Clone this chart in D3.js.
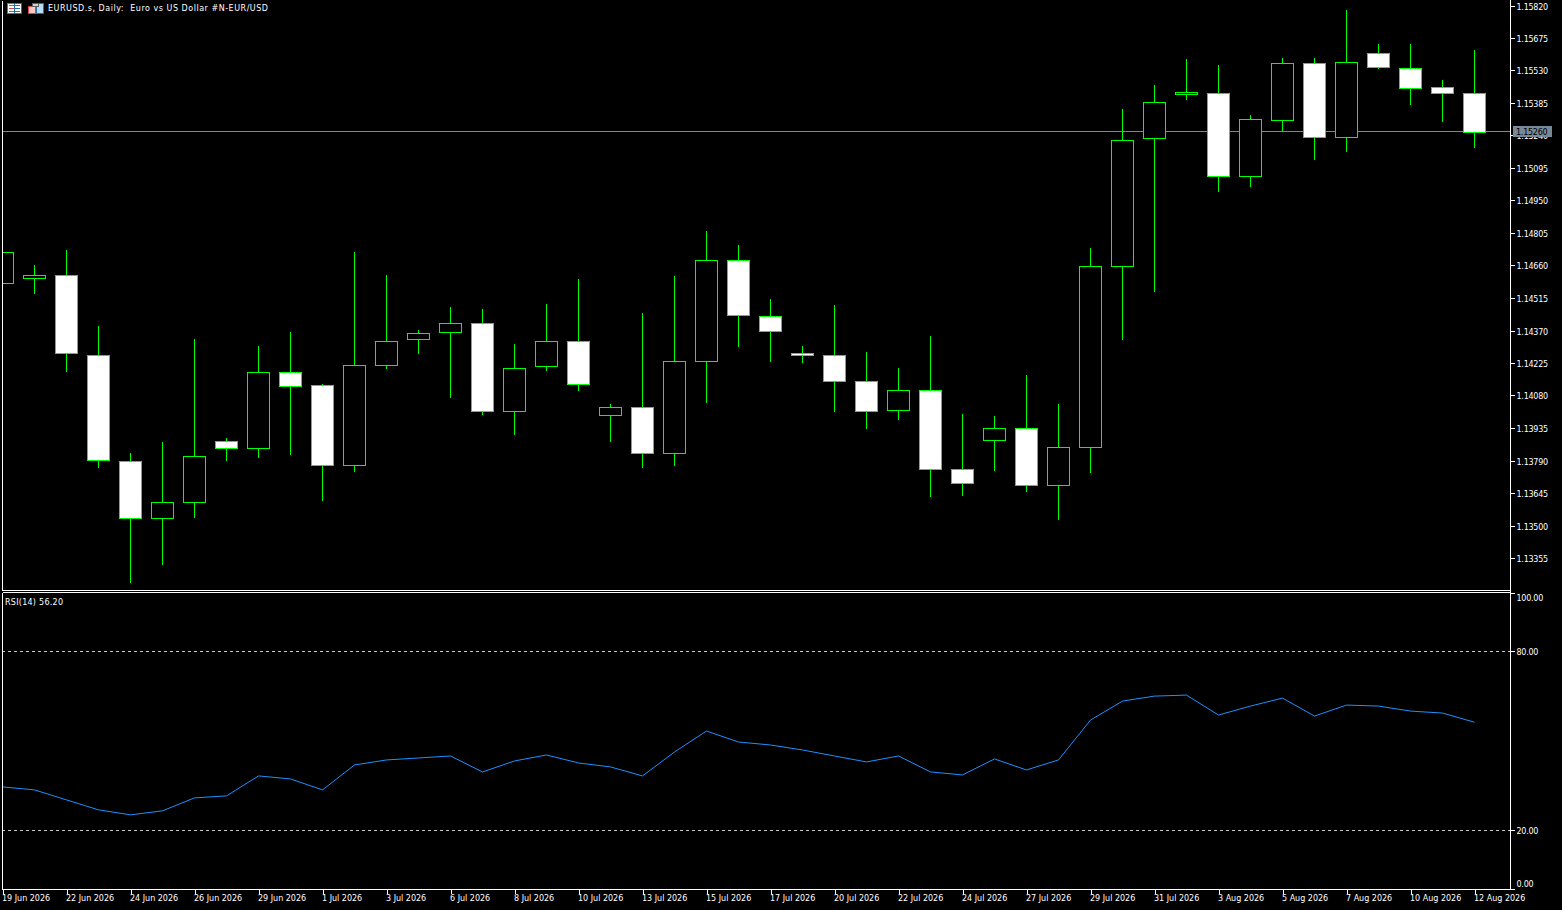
<!DOCTYPE html>
<html>
<head>
<meta charset="utf-8">
<title>EURUSD.s, Daily</title>
<script src="https://cdn.jsdelivr.net/npm/d3@7"></script>
<style>
	html, body { margin: 0; padding: 0; background: #000; overflow: hidden; }
	svg { display: block; }
	text { font-family: 'DejaVu Sans', sans-serif; font-size: 8px; fill: #fff; }
	.tick line, .domain { stroke: #fff; }
</style>
</head>
<body>
<div id="chart"></div>
<script>
var opens = [1.14584,1.14606,1.14620,1.14265,1.13792,1.13536,1.13609,1.13881,1.13848,1.14187,1.14129,1.13772,1.14218,1.14334,1.14365,1.14406,1.14013,1.14214,1.14325,1.13995,1.14031,1.13826,1.14236,1.14687,1.14439,1.14272,1.14263,1.14147,1.14018,1.14107,1.13754,1.13884,1.13937,1.13683,1.13852,1.14660,1.15231,1.15427,1.15432,1.15062,1.15311,1.15566,1.15235,1.15610,1.15543,1.15459,1.15432];
var highs = [1.14722,1.14664,1.14731,1.14392,1.13826,1.13875,1.14334,1.13893,1.14303,1.14365,1.14134,1.14722,1.14620,1.14375,1.14477,1.14468,1.14312,1.14490,1.14602,1.14044,1.14450,1.14615,1.14816,1.14754,1.14513,1.14303,1.14486,1.14276,1.14205,1.14348,1.14000,1.13991,1.14174,1.14044,1.14740,1.15360,1.15467,1.15583,1.15557,1.15334,1.15588,1.15588,1.15802,1.15650,1.15650,1.15490,1.15624];
var lows = [1.14584,1.14535,1.14187,1.13759,1.13246,1.13326,1.13536,1.13790,1.13803,1.13817,1.13612,1.13741,1.14200,1.14267,1.14071,1.13995,1.13906,1.14191,1.14102,1.13875,1.13759,1.13768,1.14049,1.14299,1.14232,1.14227,1.14009,1.13933,1.13973,1.13629,1.13634,1.13745,1.13652,1.13527,1.13736,1.14330,1.14544,1.15401,1.14990,1.15012,1.15262,1.15133,1.15169,1.15539,1.15378,1.15302,1.15186];
var closes = [1.14722,1.14620,1.14272,1.13795,1.13536,1.13605,1.13812,1.13848,1.14187,1.14125,1.13770,1.14218,1.14325,1.14361,1.14406,1.14013,1.14205,1.14325,1.14134,1.14031,1.13826,1.14236,1.14687,1.14441,1.14370,1.14261,1.14147,1.14013,1.14107,1.13754,1.13692,1.13937,1.13683,1.13852,1.14658,1.15222,1.15392,1.15436,1.15062,1.15316,1.15566,1.15235,1.15570,1.15548,1.15454,1.15432,1.15260];
var rsi = [34.54,33.54,30.19,26.85,25.18,26.52,30.86,31.53,38.22,37.21,33.54,41.89,43.57,44.23,44.90,39.55,43.23,45.24,42.56,41.23,38.22,46.24,53.26,49.58,48.58,46.91,44.90,42.90,44.90,39.55,38.55,43.90,40.22,43.57,56.94,63.29,64.96,65.29,58.61,61.62,64.29,58.27,61.95,61.62,59.94,59.28,56.20];

var priceTicks = [1.15820,1.15675,1.15530,1.15385,1.15240,1.15095,1.14950,1.14805,1.14660,1.14515,1.14370,1.14225,1.14080,1.13935,1.13790,1.13645,1.13500,1.13355];
var rsiTicks = [100,80,20,0];
var rsiLevels = [80,20];
var currentPrice = 1.15260;
var dateLabels = ['19 Jun 2026','22 Jun 2026','24 Jun 2026','26 Jun 2026','29 Jun 2026','1 Jul 2026','3 Jul 2026','6 Jul 2026','8 Jul 2026','10 Jul 2026','13 Jul 2026','15 Jul 2026','17 Jul 2026','20 Jul 2026','22 Jul 2026','24 Jul 2026','27 Jul 2026','29 Jul 2026','31 Jul 2026','3 Aug 2026','5 Aug 2026','7 Aug 2026','10 Aug 2026','12 Aug 2026'];
var dateIndex = [0,2,4,6,8,10,12,14,16,18,20,22,24,26,28,30,32,34,36,38,40,42,44,46];

var w = 1562, h = 910;
var left = 2, right = 1510, mainBottom = 590, subTop = 592, subBottom = 889;

var x = d3.scaleLinear().domain([0, 46]).range([2, 1474]);
var y = d3.scaleLinear().domain([1.15820, 1.13355]).range([6, 558.5]);
var yRsi = d3.scaleLinear().domain([0, 100]).range([890, 591.5]);

// everything snapped to the pixel grid like the terminal does
function px(v) {
	return Math.round(v) + 0.5;
}
function row(v) {
	return Math.floor(v) + 0.5;
}

var svg = d3.select('#chart').append('svg').attr('width', w).attr('height', h).attr('shape-rendering', 'crispEdges');

svg.append('rect').attr('width', w).attr('height', h).attr('fill', '#000');

svg.append('clipPath').attr('id', 'mainClip').append('rect').attr('x', left).attr('y', 0).attr('width', right - left).attr('height', mainBottom);

var main = svg.append('g').attr('clip-path', 'url(#mainClip)');

// current price line goes behind the candles
main.append('line')
	.attr('x1', left).attr('x2', right)
	.attr('y1', row(y(currentPrice))).attr('y2', row(y(currentPrice)))
	.attr('stroke', '#778899');

var candles = main.selectAll('.candle').data(d3.range(opens.length)).enter().append('g').attr('class', 'candle');

candles.append('line')
	.attr('x1', function(i) { return px(x(i)); })
	.attr('x2', function(i) { return px(x(i)); })
	.attr('y1', function(i) { return Math.round(y(highs[i])); })
	.attr('y2', function(i) { return Math.round(y(lows[i])); })
	.attr('stroke', '#00ff00');

candles.append('rect')
	.attr('x', function(i) { return px(x(i)) - 11; })
	.attr('width', 22)
	.attr('y', function(i) { return px(y(Math.max(opens[i], closes[i]))); })
	.attr('height', function(i) { return px(y(Math.min(opens[i], closes[i]))) - px(y(Math.max(opens[i], closes[i]))); })
	.attr('fill', function(i) { return closes[i] < opens[i] ? '#fff' : '#000'; })
	.attr('stroke', '#00ff00');

// rsi pane
svg.selectAll('.level').data(rsiLevels).enter().append('line')
	.attr('class', 'level')
	.attr('x1', left).attr('x2', right)
	.attr('y1', function(d) { return row(yRsi(d)); })
	.attr('y2', function(d) { return row(yRsi(d)); })
	.attr('stroke', '#c8c8c8')
	.attr('stroke-dasharray', '3,3');

var rsiLine = d3.line()
	.x(function(d, i) { return x(i) + 0.5; })
	.y(function(d) { return yRsi(d); });

svg.append('path')
	.datum(rsi)
	.attr('d', rsiLine)
	.attr('fill', 'none')
	.attr('stroke', '#1e90ff')
	.attr('shape-rendering', 'auto');

// frame
var frame = [
	[left, 0, left, mainBottom], [left, subTop, left, subBottom],
	[left, mainBottom, right, mainBottom], [left, subTop, right, subTop],
	[left, subBottom, right, subBottom]
];
svg.selectAll('.frame').data(frame).enter().append('line')
	.attr('class', 'frame')
	.attr('x1', function(d) { return d[0] + 0.5; })
	.attr('y1', function(d) { return d[1] + 0.5; })
	.attr('x2', function(d) { return d[2] + 0.5; })
	.attr('y2', function(d) { return d[3] + 0.5; })
	.attr('stroke', '#fff');

// axes
var yAxis = d3.axisRight(y).tickValues(priceTicks).tickSize(4).tickPadding(2).tickFormat(d3.format('.5f'));
var priceAxis = svg.append('g').attr('transform', 'translate(' + (right + 0.5) + ',0)').call(yAxis);
priceAxis.select('.domain').attr('d', 'M0,0V' + (subBottom + 0.5));
priceAxis.selectAll('.tick').attr('transform', function(d) { return 'translate(0,' + row(y(d)) + ')'; });

var rsiAxis = d3.axisRight(yRsi).tickValues(rsiTicks).tickSize(4).tickPadding(2).tickFormat(d3.format('.2f'));
var rsiG = svg.append('g').attr('transform', 'translate(' + (right + 0.5) + ',0)').call(rsiAxis);
rsiG.select('.domain').remove();
// 100 and 0 sit just inside the pane, their labels are pushed inwards
rsiG.selectAll('.tick').attr('transform', function(d) {
	return 'translate(0,' + row(Math.min(Math.max(yRsi(d), subTop + 1), subBottom)) + ')';
});
rsiG.selectAll('.tick text').attr('dy', function(d) {
	if (d == 100) return '7px';
	if (d == 0) return '-3px';
	return '3px';
});
priceAxis.selectAll('.tick text').attr('dy', '3px');

// the date axis, labels start at the tick
var xAxis = d3.axisBottom(x).tickValues(dateIndex).tickSize(4).tickPadding(2).tickFormat(function(d, i) { return dateLabels[i]; });
var dateG = svg.append('g').attr('transform', 'translate(0.5,' + (subBottom + 0.5) + ')').call(xAxis);
dateG.select('.domain').remove();
dateG.selectAll('text').attr('text-anchor', 'start').attr('x', -1);

svg.selectAll('.tick line').attr('stroke', '#fff');
svg.selectAll('.tick text').attr('fill', '#fff').style('font-family', "'DejaVu Sans', sans-serif").style('font-size', '8px');
priceAxis.selectAll('.tick text').style('letter-spacing', '-0.25px');
rsiG.selectAll('.tick text').style('letter-spacing', '-0.25px');

// current price tag
var tagY = row(y(currentPrice));
svg.append('rect').attr('x', 1513).attr('y', tagY - 5.5).attr('width', 39).attr('height', 11).attr('fill', '#778899');
svg.append('text').attr('x', 1516).attr('y', tagY + 3).style('fill', '#000').style('letter-spacing', '-0.25px').text(d3.format('.5f')(currentPrice));

// titles
svg.append('text').attr('x', 48).attr('y', 11).attr('textLength', 220).text('EURUSD.s, Daily:  Euro vs US Dollar #N-EUR/USD').attr('xml:space', 'preserve');
svg.append('text').attr('x', 5).attr('y', 605).attr('textLength', 58).text('RSI(14) 56.20');

// window icons
var icons = [
	{ x: 7, y: 3, w: 7, h: 10, fill: '#fff', stroke: '#e04040' },
	{ x: 14, y: 3, w: 7, h: 10, fill: '#fff', stroke: '#2070b0' },
	{ x: 28, y: 6, w: 7, h: 7, fill: '#ffc8c0', stroke: '#e04040' },
	{ x: 36, y: 3, w: 7, h: 10, fill: '#b8dcf8', stroke: '#2070b0' },
	{ x: 32, y: 3, w: 6, h: 3, fill: '#d0d0d0', stroke: '#606060' }
];
svg.selectAll('.icon').data(icons).enter().append('rect')
	.attr('class', 'icon')
	.attr('x', function(d) { return d.x + 0.5; })
	.attr('y', function(d) { return d.y + 0.5; })
	.attr('width', function(d) { return d.w; })
	.attr('height', function(d) { return d.h; })
	.attr('fill', function(d) { return d.fill; })
	.attr('stroke', function(d) { return d.stroke; });

var stripes = [
	{ x: 9, y: 5, c: '#e04040' }, { x: 9, y: 8, c: '#e04040' }, { x: 9, y: 11, c: '#e04040' },
	{ x: 15, y: 5, c: '#2070b0' }, { x: 15, y: 8, c: '#2070b0' }, { x: 15, y: 11, c: '#2070b0' }
];
svg.selectAll('.stripe').data(stripes).enter().append('rect')
	.attr('class', 'stripe')
	.attr('x', function(d) { return d.x; })
	.attr('y', function(d) { return d.y; })
	.attr('width', 5)
	.attr('height', 1)
	.attr('fill', function(d) { return d.c; });
</script>
</body>
</html>
